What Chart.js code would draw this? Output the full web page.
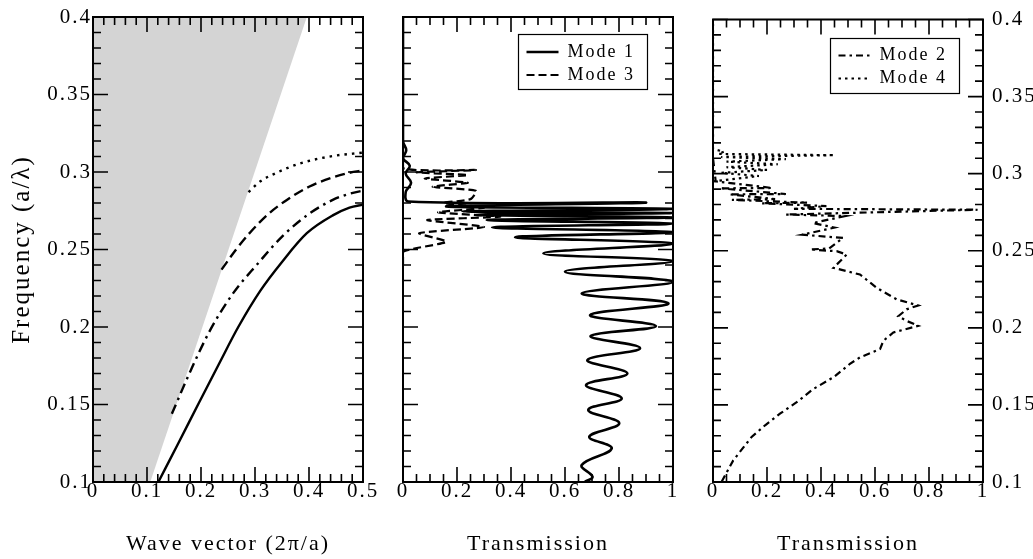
<!DOCTYPE html>
<html lang="en">
<head>
<meta charset="UTF-8">
<title>Dispersion and transmission</title>
<script src="https://cdn.jsdelivr.net/npm/chart.js"></script>
<style>
  html, body { margin: 0; padding: 0; background: #fff; }
  #wrap { position: relative; width: 1033px; height: 559px; }
  #wrap canvas { position: absolute; left: 0; top: 0; }
</style>
</head>
<body>
<div id="wrap">
  <canvas id="bands" width="1033" height="559"></canvas>
  <canvas id="transA" width="1033" height="559"></canvas>
  <canvas id="transB" width="1033" height="559"></canvas>
</div>
<script>
// tick values
const waveTicks = [0, 0.1, 0.2, 0.3, 0.4, 0.5];
const transTicks = [0, 0.2, 0.4, 0.6, 0.8, 1];
const freqTicks = [0.1, 0.15, 0.2, 0.25, 0.3, 0.35, 0.4];

// left panel: light cone and band curves [k, f]
const lightCone = [[0, 0.1], [0.106, 0.1], [0.396, 0.4]];
const bandMode1 = [[0.121, 0.1], [0.158, 0.125], [0.196, 0.151], [0.233, 0.176], [0.269, 0.2], [0.31, 0.2235], [0.35, 0.242], [0.396, 0.2605], [0.444, 0.272], [0.475, 0.277], [0.5, 0.279]];
const bandMode2 = [[0.146, 0.144], [0.181, 0.172], [0.217, 0.198], [0.26, 0.222], [0.303, 0.24], [0.352, 0.259], [0.4, 0.273], [0.444, 0.282], [0.475, 0.286], [0.5, 0.288]];
const bandMode3 = [[0.238, 0.237], [0.265, 0.25], [0.291, 0.261], [0.325, 0.273], [0.359, 0.282], [0.4, 0.2905], [0.444, 0.2965], [0.475, 0.2995], [0.5, 0.301]];
const bandMode4 = [[0.288, 0.287], [0.31, 0.294], [0.34, 0.2995], [0.383, 0.3055], [0.444, 0.3103], [0.5, 0.3125]];

// transmission panels [T, f]
const transMode1 = [[0.674, 0.1002], [0.702, 0.1034], [0.662, 0.111], [0.773, 0.1217], [0.69, 0.1292], [0.801, 0.1379], [0.686, 0.1465], [0.81, 0.154], [0.678, 0.1626], [0.831, 0.170], [0.683, 0.1787], [0.878, 0.1863], [0.695, 0.1942], [0.937, 0.2006], [0.693, 0.2077], [0.983, 0.2153], [0.662, 0.2217], [1.0, 0.2292], [0.60, 0.2357], [1.0, 0.2425], [0.52, 0.2475], [1.0, 0.2538], [0.415, 0.2579], [1.0, 0.2612], [0.33, 0.2643], [1.0, 0.2667], [0.31, 0.2690], [1.0, 0.2707], [0.27, 0.2723], [1.0, 0.2735], [0.22, 0.2746], [1.0, 0.2762], [0.16, 0.2778], [0.9, 0.2803], [0.02, 0.2810], [0.01, 0.287], [0.03, 0.293], [0.01, 0.299], [0.025, 0.304], [0.0, 0.309], [0.012, 0.314], [0.0, 0.32], [0.0, 0.4]];
const transMode3 = [[0.0, 0.24], [0.0, 0.2485], [0.16, 0.2550], [0.06, 0.2605], [0.30, 0.2645], [0.09, 0.2690], [0.36, 0.2712], [0.13, 0.2740], [0.30, 0.2770], [0.15, 0.2800], [0.25, 0.2825], [0.27, 0.2878], [0.11, 0.2905], [0.24, 0.2931], [0.08, 0.2958], [0.24, 0.2980], [0.05, 0.2998], [0.27, 0.3013], [0.0, 0.3025], [0.0, 0.32]];
const transMode2 = [[0.032, 0.1002], [0.075, 0.114], [0.143, 0.1292], [0.193, 0.1368], [0.248, 0.1443], [0.31, 0.1518], [0.372, 0.1604], [0.446, 0.1679], [0.507, 0.1766], [0.544, 0.1808], [0.619, 0.1863], [0.631, 0.1916], [0.668, 0.197], [0.76, 0.2013], [0.717, 0.2045], [0.686, 0.2075], [0.717, 0.212], [0.76, 0.2145], [0.68, 0.2185], [0.606, 0.226], [0.544, 0.2346], [0.495, 0.2368], [0.446, 0.2389], [0.495, 0.2475], [0.458, 0.2497], [0.36, 0.2508], [0.43, 0.2515], [0.482, 0.2583], [0.33, 0.2604], [0.45, 0.2650], [0.37, 0.2680], [0.49, 0.2725], [0.27, 0.2735], [0.98, 0.2766], [0.30, 0.2772], [0.42, 0.2790], [0.18, 0.2808], [0.35, 0.2812], [0.07, 0.2830], [0.23, 0.2835], [0.06, 0.2866], [0.27, 0.2868], [0.026, 0.2905], [0.22, 0.2907], [0.01, 0.295], [0.0, 0.31]];
const transMode4 = [[0.0, 0.295], [0.17, 0.2985], [0.03, 0.3005], [0.2, 0.3024], [0.05, 0.3042], [0.24, 0.3061], [0.05, 0.3078], [0.27, 0.3094], [0.03, 0.3108], [0.45, 0.312], [0.02, 0.3128], [0.04, 0.3142], [0.0, 0.316], [0.0, 0.4]];

Chart.defaults.font.family = "'Liberation Serif', 'Times New Roman', serif";
Chart.defaults.color = '#000';

const xy = pts => pts.map(([x, y]) => ({ x, y }));

function curve(pts, label, dash, width, extra) {
    return Object.assign({
        label, data: xy(pts), showLine: true, fill: false,
        borderColor: '#000', borderWidth: width, borderDash: dash,
        pointRadius: 0, pointHoverRadius: 0
    }, extra || {});
}

// canvas text a bit wider, like the original figure
const spacing = {
    id: 'spacing',
    beforeUpdate(chart) { chart.ctx.letterSpacing = '2px'; },
    beforeDraw(chart) { chart.ctx.letterSpacing = '2px'; }
};

// frame plus inward major/minor ticks on all four sides
const frameTicks = {
    id: 'frameTicks',
    afterDraw(chart, args, opts) {
        const { ctx, chartArea: a, scales: { x, y } } = chart;
        const marks = (scale, sub) => {
            const vals = scale.ticks.map(t => t.value);
            const out = [];
            vals.forEach((v, i) => {
                out.push([v, true]);
                if (i < vals.length - 1) {
                    for (let j = 1; j < sub; j++) out.push([v + (vals[i + 1] - v) * j / sub, false]);
                }
            });
            return out;
        };
        ctx.save();
        ctx.strokeStyle = '#000';
        ctx.lineWidth = 1.6;
        ctx.beginPath();
        marks(x, opts.xSub).forEach(([v, major]) => {
            const px = x.getPixelForValue(v), len = major ? 15 : 8;
            ctx.moveTo(px, a.bottom); ctx.lineTo(px, a.bottom - len);
            ctx.moveTo(px, a.top); ctx.lineTo(px, a.top + len);
        });
        marks(y, opts.ySub).forEach(([v, major]) => {
            const py = y.getPixelForValue(v), len = major ? 15 : 8;
            ctx.moveTo(a.left, py); ctx.lineTo(a.left + len, py);
            ctx.moveTo(a.right, py); ctx.lineTo(a.right - len, py);
        });
        ctx.stroke();
        ctx.lineWidth = 2;
        ctx.strokeRect(a.left, a.top, a.right - a.left, a.bottom - a.top);
        ctx.restore();
    }
};

// move the legend to the upper right of the plot and box it
const legendBox = {
    id: 'legendBox',
    afterLayout(chart, args, opts) {
        const lg = chart.legend;
        if (!lg || !lg.options.display) return;
        const a = chart.chartArea;
        lg.left = a.right - opts.right - (lg.width + 2);
        lg.right = lg.left + lg.width;
        lg.top = a.top + opts.top;
        lg.bottom = a.bottom;
    },
    afterDraw(chart) {
        const lg = chart.legend;
        if (!lg || !lg.options.display) return;
        const pad = lg.options.labels.padding;
        const h = lg.columnSizes[0].height + pad + 4;
        const ctx = chart.ctx;
        ctx.save();
        ctx.strokeStyle = '#000';
        ctx.lineWidth = 1.2;
        ctx.strokeRect(Math.round(lg.left - 4) + 0.5, Math.round(lg.top - 4) + 0.5, Math.round(lg.width + 6), Math.round(h));
        ctx.restore();
    }
};

function xAxis(min, max, ticks, title) {
    return {
        type: 'linear', position: 'bottom', min, max,
        afterBuildTicks: s => { s.ticks = ticks.map(value => ({ value })); },
        afterFit: s => { s.height = 77; },
        grid: { display: false, drawTicks: false },
        border: { display: false },
        ticks: { padding: -1, autoSkip: false, maxRotation: 0, font: { size: 21, lineHeight: 1 }, callback: v => String(v) },
        title: { display: true, text: title, font: { size: 22 }, padding: { top: 0, bottom: 2 } }
    };
}

function yAxis(position, width, showLabels, title) {
    return {
        type: 'linear', position, min: 0.1, max: 0.4,
        afterBuildTicks: s => { s.ticks = freqTicks.map(value => ({ value })); },
        afterFit: s => { s.width = width; },
        grid: { display: false, drawTicks: false },
        border: { display: false },
        ticks: { display: showLabels, padding: position === 'left' ? 1 : 9, autoSkip: false, font: { size: 21, lineHeight: 1 }, callback: v => String(v) },
        title: { display: !!title, text: title || '', font: { size: 25 }, padding: { top: 7, bottom: 0 } }
    };
}

function legendOpts() {
    return {
        display: true, position: 'chartArea', align: 'start',
        labels: {
            usePointStyle: true, pointStyleWidth: 32, padding: 5, font: { size: 18 },
            generateLabels: chart => chart.data.datasets.map((ds, i) => ({
                text: ds.label, datasetIndex: i, hidden: false,
                fillStyle: 'rgba(0,0,0,0)', strokeStyle: '#000', fontColor: '#000',
                lineWidth: ds.borderWidth, lineDash: ds.borderDash, lineCap: 'butt', pointStyle: 'line'
            }))
        }
    };
}

const common = { responsive: false, animation: false, events: [] };

new Chart('bands', {
    type: 'scatter',
    data: {
        datasets: [
            curve(bandMode1, 'Mode 1', [], 2.4, { cubicInterpolationMode: 'monotone' }),
            curve(bandMode2, 'Mode 2', [10, 5, 2.5, 5], 2.4, { cubicInterpolationMode: 'monotone' }),
            curve(bandMode3, 'Mode 3', [10, 5], 2.4, { cubicInterpolationMode: 'monotone' }),
            curve(bandMode4, 'Mode 4', [2.5, 5], 2.4, { cubicInterpolationMode: 'monotone' }),
            curve(lightCone, 'Light cone', [], 0, { fill: 'end', backgroundColor: '#d4d4d4' })
        ]
    },
    options: Object.assign({}, common, {
        layout: { padding: { left: 0, top: 17, right: 670, bottom: 0 } },
        plugins: { legend: { display: false }, tooltip: { enabled: false }, frameTicks: { xSub: 5, ySub: 5 } },
        scales: { x: xAxis(0, 0.5, waveTicks, 'Wave vector (2π/a)'), y: yAxis('left', 93, true, 'Frequency (a/λ)') }
    }),
    plugins: [spacing, frameTicks]
});

new Chart('transA', {
    type: 'scatter',
    data: {
        datasets: [
            curve(transMode1, 'Mode 1', [], 2.6, { tension: 0.4 }),
            curve(transMode3, 'Mode 3', [8, 4], 2.2, { tension: 0.2 })
        ]
    },
    options: Object.assign({}, common, {
        layout: { padding: { left: 403, top: 17, right: 360, bottom: 0 } },
        plugins: { legend: legendOpts(), tooltip: { enabled: false }, frameTicks: { xSub: 4, ySub: 5 }, legendBox: { right: 26, top: 21 } },
        scales: { x: xAxis(0, 1, transTicks, 'Transmission'), y: yAxis('left', 0, false) }
    }),
    plugins: [spacing, frameTicks, legendBox]
});

new Chart('transB', {
    type: 'scatter',
    data: {
        datasets: [
            curve(transMode2, 'Mode 2', [7, 4, 2.5, 4], 2.2, { tension: 0 }),
            curve(transMode4, 'Mode 4', [2.5, 4], 2.2, { tension: 0 })
        ]
    },
    options: Object.assign({}, common, {
        layout: { padding: { left: 713, top: 17, right: 0, bottom: 0 } },
        plugins: { legend: legendOpts(), tooltip: { enabled: false }, frameTicks: { xSub: 4, ySub: 5 }, legendBox: { right: 24, top: 22 } },
        scales: { x: xAxis(0, 1, transTicks, 'Transmission'), y: yAxis('right', 50, true) }
    }),
    plugins: [spacing, frameTicks, legendBox]
});
</script>
</body>
</html>
